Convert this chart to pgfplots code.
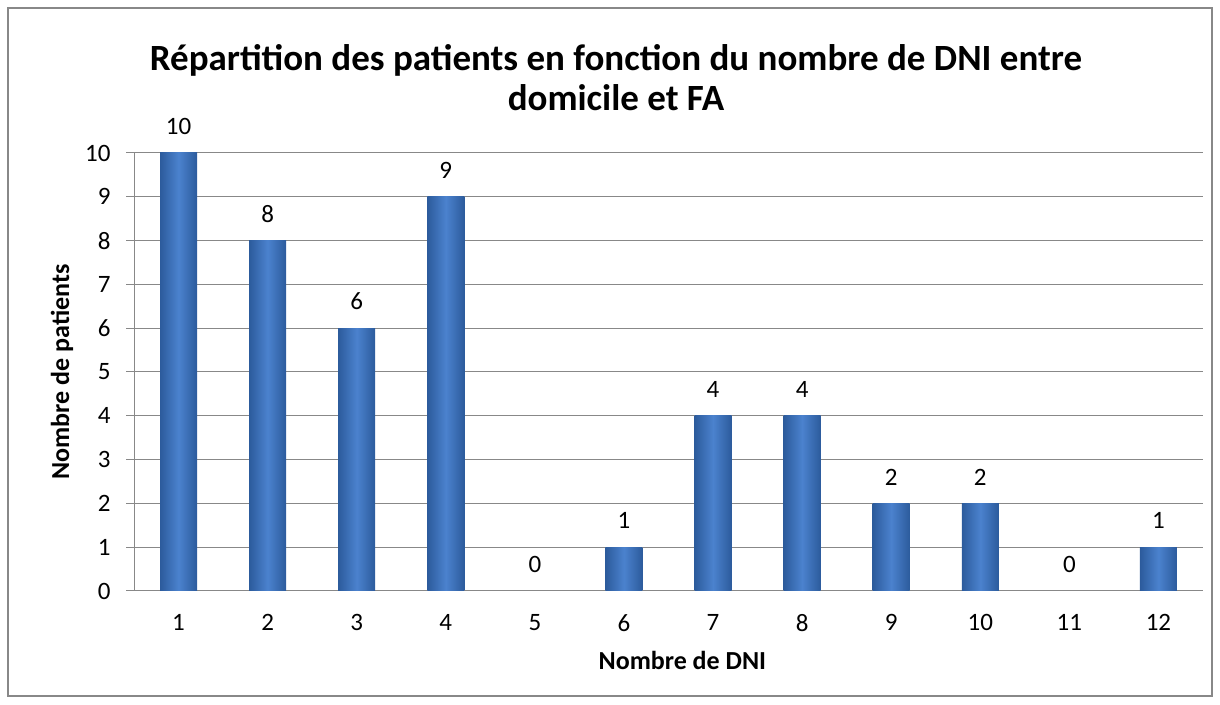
\documentclass[border=0pt]{standalone}
\usepackage{pgfplots}
\pgfplotsset{compat=1.18}
\usepackage{fontspec}
\setmainfont{Carlito}
\definecolor{gridgray}{HTML}{888888}
\definecolor{bardark}{HTML}{2C5B9C}
\definecolor{barmid}{HTML}{4B82CE}
\pgfplotsset{mybar/.style={ybar, bar width=37pt, bar shift=0pt, draw=none,
  left color=bardark, right color=bardark, middle color=barmid}}
\begin{document}
\begin{tikzpicture}[x=1pt,y=1pt]
\path[use as bounding box] (0,0) rectangle (1220,704);
\draw[gridgray, line width=1.2pt] (8,8) rectangle (1212,696);
\node[align=center, font={\fontsize{37}{40}\selectfont\bfseries}] at (616,626)
  {Répartition des patients en fonction du nombre de DNI entre\\domicile et FA};
\begin{axis}[
  at={(134pt,113pt)}, anchor=south west,
  scale only axis, width=1069pt, height=438pt,
  xmin=0.5, xmax=12.5, ymin=0, ymax=10,
  axis x line=bottom, axis y line=left,
  axis line style={-, gridgray, line width=1pt},
  xtick={1,...,12}, ytick={0,...,10},
  xtick style={draw=none},
  ytick style={gridgray, line width=1pt},
  tick align=outside, major tick length=8pt,
  ymajorgrids, grid style={gridgray, line width=1pt},
  ticklabel style={font=\fontsize{25}{29}\selectfont},
  /pgf/number format/assume math mode=true,
  xticklabel style={yshift=-12pt},
  yticklabel style={xshift=-12pt},
  xlabel={Nombre de DNI}, ylabel={Nombre de patients},
  label style={font=\fontsize{26}{30}\selectfont\bfseries},
  xlabel style={at={(axis description cs:0.513,-0.1575)}, anchor=center},
  ylabel style={at={(axis description cs:-0.0673,0.5)}, anchor=center},
  nodes near coords,
  nodes near coords style={font=\fontsize{25}{29}\selectfont, anchor=south, inner sep=0pt, yshift=18pt},
]
\addplot[mybar] coordinates {(1,10)};
\addplot[mybar] coordinates {(2,8)};
\addplot[mybar] coordinates {(3,6)};
\addplot[mybar] coordinates {(4,9)};
\addplot[mybar] coordinates {(5,0)};
\addplot[mybar] coordinates {(6,1)};
\addplot[mybar] coordinates {(7,4)};
\addplot[mybar] coordinates {(8,4)};
\addplot[mybar] coordinates {(9,2)};
\addplot[mybar] coordinates {(10,2)};
\addplot[mybar] coordinates {(11,0)};
\addplot[mybar] coordinates {(12,1)};
\end{axis}
\end{tikzpicture}
\end{document}
